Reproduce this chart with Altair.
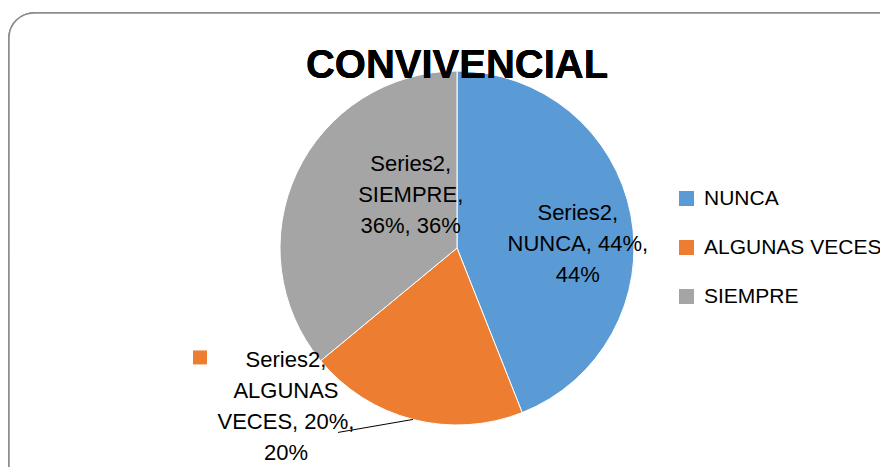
import altair as alt
import pandas as pd

categories = ["NUNCA", "ALGUNAS VECES", "SIEMPRE"]
values = [44, 20, 36]
colors = ["#5B9BD5", "#ED7D31", "#A5A5A5"]
label_texts = [
    "Series2,\nNUNCA, 44%,\n44%",
    "Series2,\nALGUNAS\nVECES, 20%,\n20%",
    "Series2,\nSIEMPRE,\n36%, 36%",
]
title_text = "CONVIVENCIAL"

df = pd.DataFrame({"cat": categories, "value": values,
                   "ord": list(range(len(categories))), "label": label_texts})

CX, CY, R = 449, 240, 177
FONT = "Liberation Sans"

color_scale = alt.Scale(domain=categories, range=colors)

frame = alt.Chart(df).mark_rect(
    cornerRadius=25, fill="white", stroke="#8c8c8c", strokeWidth=1.5
).encode(x=alt.value(1), x2=alt.value(900), y=alt.value(5), y2=alt.value(500))

base = alt.Chart(df).encode(
    theta=alt.Theta("value:Q", stack=True),
    order=alt.Order("ord:Q"),
)

pie = base.mark_arc(outerRadius=R, stroke="white", strokeWidth=1).encode(
    x=alt.value(CX), y=alt.value(CY),
    color=alt.Color(
        "cat:N", scale=color_scale, sort=categories,
        legend=alt.Legend(
            title=None, orient="none", legendX=668, legendY=180,
            labelFont=FONT, labelFontSize=21, labelColor="black",
            symbolType="square", symbolSize=225, symbolStrokeWidth=0,
            rowPadding=27, labelOffset=7, labelLimit=400,
        ),
    ),
)


def label_layer(cat, radius, dx, dy):
    return base.mark_text(
        radius=radius, dx=dx, dy=dy, fontSize=22, font=FONT,
        lineBreak="\n", lineHeight=31, align="center", baseline="middle",
        color="black",
    ).encode(
        x=alt.value(CX), y=alt.value(CY),
        text=alt.condition(f"datum.cat == '{cat}'", "label:N", alt.value("")),
    )


lab_nunca = label_layer("NUNCA", 123, 0, -12)
lab_siempre = label_layer("SIEMPRE", 60, 8, -58)
lab_alg = label_layer("ALGUNAS VECES", R, -127, -59)

edge = (
    alt.Chart(df)
    .transform_joinaggregate(total="sum(value)")
    .transform_window(cum="sum(value)", sort=[alt.SortField("ord")], frame=[None, 0])
    .transform_calculate(
        mid="(datum.cum - datum.value / 2) / datum.total * 2 * PI",
    )
    .transform_calculate(
        ex=f"{CX} + {R} * sin(datum.mid)",
        ey=f"{CY} - {R} * cos(datum.mid)",
    )
    .transform_filter("datum.cat == 'ALGUNAS VECES'")
    .transform_calculate(
        lx="datum.ex - 75", ly="datum.ey + 13",
        sx="datum.ex - 213", sy="datum.ey - 62",
    )
)

leader = edge.mark_rule(color="black", strokeWidth=1).encode(
    x=alt.X("ex:Q", scale=None, axis=None),
    y=alt.Y("ey:Q", scale=None, axis=None),
    x2="lx:Q", y2="ly:Q",
)

key = edge.mark_square(size=196, opacity=1).encode(
    x=alt.X("sx:Q", scale=None, axis=None),
    y=alt.Y("sy:Q", scale=None, axis=None),
    color=alt.Color("cat:N", scale=color_scale, legend=None),
)

title = alt.Chart(df).mark_text(
    text=title_text, font=FONT, fontSize=40, fontWeight="bold",
    color="black", align="center", baseline="alphabetic",
).encode(x=alt.value(CX), y=alt.value(70))

chart = alt.layer(
    frame, pie, lab_nunca, lab_siempre, lab_alg, leader, key, title
).properties(
    width=872, height=459, padding=0,
    autosize=alt.AutoSizeParams(type="none"),
).configure_view(stroke=None)

chart.save("out.html", embed_options={"renderer": "svg", "actions": False})
